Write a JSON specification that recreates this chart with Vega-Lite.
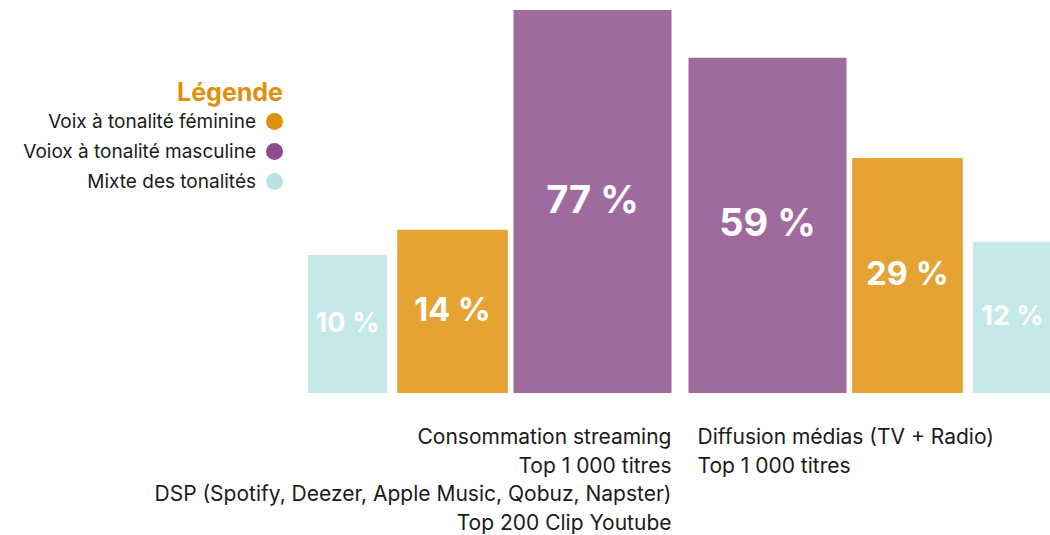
{
  "$schema": "https://vega.github.io/schema/vega-lite/v6.json",
  "width": 700,
  "height": 383,
  "autosize": {"type": "none"},
  "padding": {"left": 330, "top": 10, "right": 20, "bottom": 142},
  "background": "white",
  "config": {
    "view": {"stroke": null},
    "font": "Inter",
    "text": {"font": "Inter"}
  },
  "data": {
    "values": [
      {"bar": "b1", "group": "Consommation streaming", "type": "Mixte des tonalités", "value": 10, "label": "10 %"},
      {"bar": "b2", "group": "Consommation streaming", "type": "Voix à tonalité féminine", "value": 14, "label": "14 %"},
      {"bar": "b3", "group": "Consommation streaming", "type": "Voiox à tonalité masculine", "value": 77, "label": "77 %"},
      {"bar": "b4", "group": "Diffusion médias", "type": "Voiox à tonalité masculine", "value": 59, "label": "59 %"},
      {"bar": "b5", "group": "Diffusion médias", "type": "Voix à tonalité féminine", "value": 29, "label": "29 %"},
      {"bar": "b6", "group": "Diffusion médias", "type": "Mixte des tonalités", "value": 12, "label": "12 %"}
    ]
  },
  "encoding": {
    "x": {
      "field": "bar",
      "type": "nominal",
      "axis": null,
      "scale": {
        "type": "band",
        "domain": ["b1", "f1", "f2", "b2", "f3", "f4", "f5", "b3", "f6", "f7", "f8", "f9", "b4", "f10", "f11", "f12", "b5", "f13", "f14", "b6"],
        "paddingInner": 0,
        "paddingOuter": 0
      }
    }
  },
  "layer": [
    {
      "mark": {"type": "bar", "fillOpacity": 0.83},
      "encoding": {
        "y": {"field": "value", "type": "quantitative", "axis": null, "scale": {"type": "sqrt", "domain": [0, 77], "nice": false}},
        "color": {
          "field": "type",
          "type": "nominal",
          "scale": {
            "domain": ["Voix à tonalité féminine", "Voiox à tonalité masculine", "Mixte des tonalités"],
            "range": ["#E0900B", "#8B4D8B", "#B9E3E3"]
          },
          "legend": {
            "title": "Légende",
            "orient": "none",
            "legendX": -153,
            "legendY": 71,
            "titleColor": "#E0900B",
            "titleFont": "Inter",
            "titleFontSize": 25,
            "titleFontWeight": "bold",
            "titleAnchor": "end",
            "titleAlign": "right",
            "titlePadding": 6,
            "labelFont": "Inter",
            "labelFontSize": 19,
            "labelLimit": 400,
            "labelColor": "#1a1a1a",
            "labelAlign": "right",
            "labelOffset": -28,
            "symbolType": "circle",
            "symbolSize": 290,
            "symbolOpacity": 1,
            "symbolStrokeWidth": 0,
            "rowPadding": 10
          }
        },
        "size": {
          "field": "type",
          "type": "nominal",
          "legend": null,
          "scale": {
            "type": "point",
            "domain": ["Mixte des tonalités", "s1", "Voix à tonalité féminine", "s2", "s3", "Voiox à tonalité masculine"],
            "range": [79, 158]
          }
        }
      }
    },
    {
      "mark": {"type": "text", "fill": "white", "fontWeight": "bold", "baseline": "middle", "align": "center", "font": "Inter"},
      "encoding": {
        "y": {"field": "value", "type": "quantitative", "axis": null, "scale": {"type": "sqrt", "domain": [0, 77], "nice": false, "rangeMax": 191.5}},
        "text": {"field": "label"},
        "size": {
          "field": "type",
          "type": "nominal",
          "legend": null,
          "scale": {
            "type": "point",
            "domain": ["Mixte des tonalités", "Voix à tonalité féminine", "Voiox à tonalité masculine"],
            "range": [27, 38]
          }
        }
      }
    },
    {
      "transform": [{"filter": "datum.bar == 'b3'"}],
      "mark": {"type": "text", "align": "right", "baseline": "middle", "dx": 79, "dy": 45, "fontSize": 21, "lineHeight": 28.5, "color": "#1a1a1a", "font": "Inter"},
      "encoding": {
        "y": {"datum": 0, "type": "quantitative", "axis": null, "scale": {"type": "sqrt", "domain": [0, 77], "nice": false}},
        "text": {"value": ["Consommation streaming", "Top 1 000 titres", "DSP (Spotify, Deezer, Apple Music, Qobuz, Napster)", "Top 200 Clip Youtube"]}
      }
    },
    {
      "transform": [{"filter": "datum.bar == 'b4'"}],
      "mark": {"type": "text", "align": "left", "baseline": "middle", "dx": -70, "dy": 45, "fontSize": 21, "lineHeight": 28.5, "color": "#1a1a1a", "font": "Inter"},
      "encoding": {
        "y": {"datum": 0, "type": "quantitative", "axis": null, "scale": {"type": "sqrt", "domain": [0, 77], "nice": false}},
        "text": {"value": ["Diffusion médias (TV + Radio)", "Top 1 000 titres"]}
      }
    }
  ],
  "resolve": {"scale": {"y": "independent", "size": "independent"}}
}
